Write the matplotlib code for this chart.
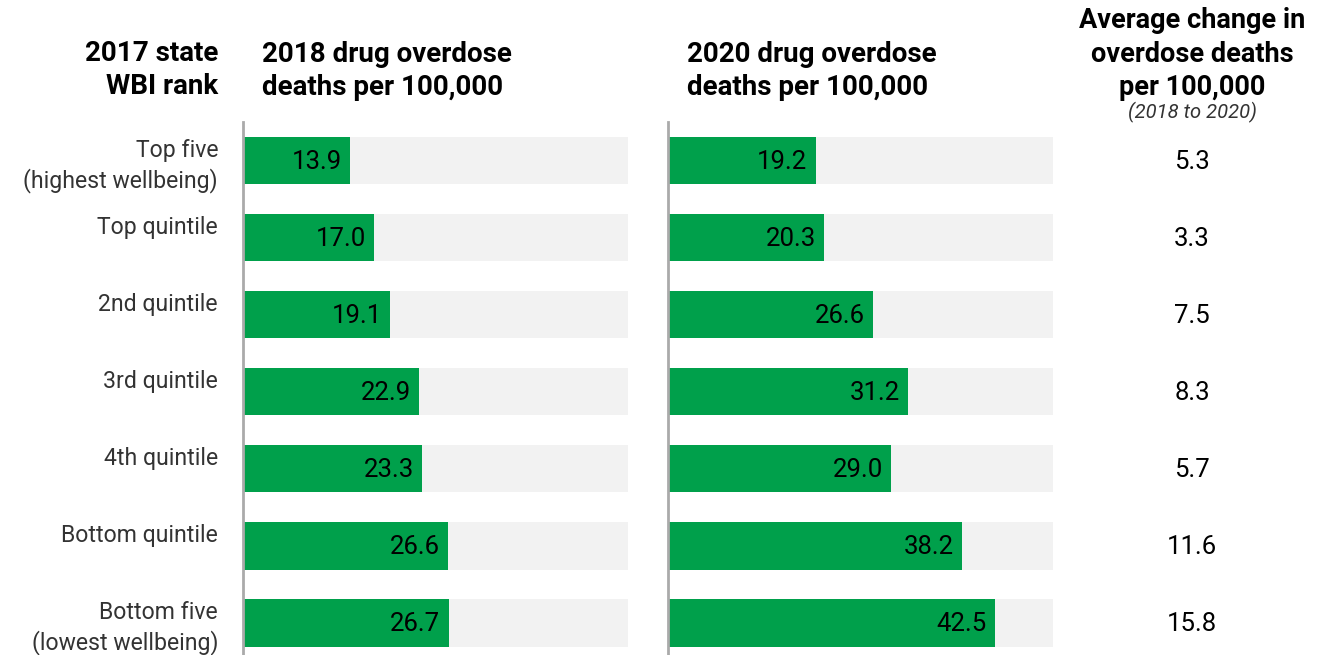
import matplotlib
matplotlib.use("Agg")
import matplotlib.pyplot as plt
from matplotlib.transforms import offset_copy, blended_transform_factory

plt.rcParams['font.family'] = ['Roboto', 'DejaVu Sans']

# data
ranks = ["Top five\n(highest wellbeing)", "Top quintile", "2nd quintile", "3rd quintile",
         "4th quintile", "Bottom quintile", "Bottom five\n(lowest wellbeing)"]
deaths_2018 = [13.9, 17.0, 19.1, 22.9, 23.3, 26.6, 26.7]
deaths_2020 = [19.2, 20.3, 26.6, 31.2, 29.0, 38.2, 42.5]
avg_change = [5.3, 3.3, 7.5, 8.3, 5.7, 11.6, 15.8]
max_val = 50

green = '#00A04B'
bg = '#F2F2F2'
W, H = 1325, 655

fig = plt.figure(figsize=(W / 100, H / 100), dpi=100)
fig.patch.set_facecolor('white')

y = list(range(len(ranks)))
ax_top = (H - 122) / H


def panel(left_px, vals):
    ax = fig.add_axes([left_px / W, 0.0, 385 / W, ax_top])
    ax.barh(y, [max_val] * len(y), height=0.62, color=bg, zorder=1)
    ax.barh(y, vals, height=0.62, color=green, zorder=2)
    ax.set_xlim(0, max_val)
    ax.set_ylim(6.42, -0.5)
    for s in ['top', 'right', 'bottom']:
        ax.spines[s].set_visible(False)
    ax.spines['left'].set_color('#AAAAAA')
    ax.spines['left'].set_linewidth(2)
    ax.set_xticks([])
    ax.set_yticks([])
    tr = offset_copy(ax.transData, fig=fig, x=-6, y=-1, units='points')
    for yi, v in zip(y, vals):
        ax.text(v, yi, f"{v:.1f}", transform=tr, ha='right', va='center',
                fontsize=18.5, color='black', zorder=3)
    return ax


ax1 = panel(243, deaths_2018)
ax2 = panel(668, deaths_2020)

# row labels
lab_tr = offset_copy(ax1.transData, fig=fig, x=-25, y=-2, units='dots')
for yi, lab in zip(y, ranks):
    ax1.text(0, yi - 0.31, lab, ha='right', va='top', fontsize=16.6,
             color='#333333', linespacing=1.32, transform=lab_tr)

# change column
chg_tr = offset_copy(blended_transform_factory(fig.transFigure, ax2.transData),
                     fig=fig, x=0, y=-1, units='points')
for yi, v in zip(y, avg_change):
    ax2.text(1192 / W, yi, f"{v:.1f}", ha='center', va='center', fontsize=18.5,
             color='black', transform=chg_tr)

# headers
hdr = dict(fontsize=20, fontweight='bold', color='black', linespacing=1.3)
fig.text(218 / W, 1 - 70 / H, "2017 state\nWBI rank", ha='right', va='center', **hdr)
fig.text(262 / W, 1 - 71 / H, "2018 drug overdose\ndeaths per 100,000", ha='left', va='center', **hdr)
fig.text(687 / W, 1 - 71 / H, "2020 drug overdose\ndeaths per 100,000", ha='left', va='center', **hdr)
fig.text(1192 / W, 1 - 54 / H, "Average change in\noverdose deaths\nper 100,000", ha='center', va='center',
         **dict(hdr, fontsize=19.5))
fig.text(1192 / W, 1 - 112 / H, "(2018 to 2020)", ha='center', va='center', fontsize=14.5,
         style='italic', color='#333333')

fig.savefig('out.png', dpi=100, facecolor='white')
